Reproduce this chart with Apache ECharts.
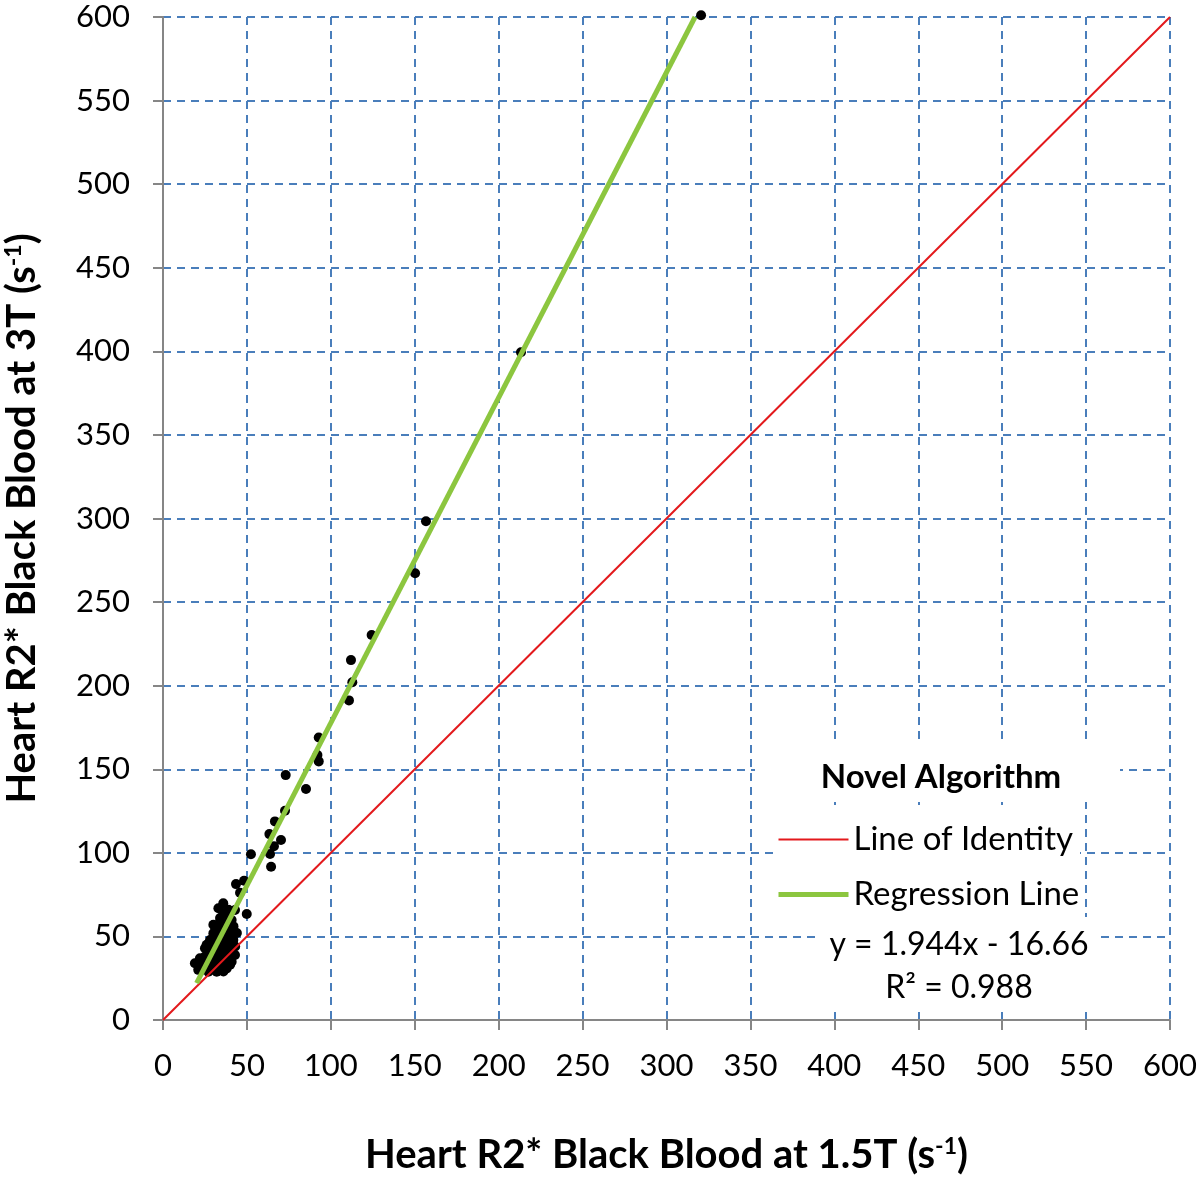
<!DOCTYPE html>
<html>
<head>
<meta charset="utf-8">
<script src="https://cdn.jsdelivr.net/npm/echarts@6/dist/echarts.min.js"></script>
<style>
html,body{margin:0;padding:0;background:#fff;}
#chart{width:1200px;height:1180px;}
</style>
</head>
<body>
<div id="chart"></div>
<script>
// Axis ticks
const axisMin = 0;
const axisMax = 600;
const axisStep = 50;

// Measured points (x = R2* at 1.5T, y = R2* at 3T)
const scatterX = [320.6, 213.3, 156.7, 150.2, 124.3, 112, 112.8, 110.8, 92.8, 92, 92.8, 73.1, 85.2, 72.7, 66.7, 63.4, 70.3, 66.1, 52.4, 63.8, 64.4,
  43.5, 48.3, 45.9, 35.9, 33, 49.9, 42.9, 38.9, 40.9, 34, 32, 37, 30, 35, 40, 28, 32, 38, 41.9, 29, 35, 40, 42.9, 22, 27, 36, 40.9, 19, 24, 30, 35, 27, 32, 38, 25, 40,
  26, 28, 30, 31, 33, 33, 34, 36, 36, 37, 38, 39, 31, 29, 26, 23, 25, 33, 37, 34, 36, 39, 31, 30, 42, 44, 43, 39, 41, 21, 28, 33, 36, 30];
const scatterY = [601, 399.5, 298.4, 267.3, 230.3, 215.3, 202, 191.2, 169, 158.5, 154.7, 146.5, 138.2, 125.2, 118.8, 111.2, 107.7, 104, 99.1, 99.3, 91.7,
  81.3, 83.3, 76.1, 69.8, 66.8, 63.4, 65.8, 62.8, 59.8, 58.8, 55.8, 55.8, 51.8, 50.8, 51.8, 47.8, 46.8, 47.8, 47.8, 42.9, 42.9, 43.8, 38.9, 36.9, 38.9, 37.9, 34.9, 33.9, 32.9, 32.9, 31.9, 28.9, 28.9, 30.9, 42.9, 33,
  45, 40, 44, 38, 40, 48, 52, 46, 53, 40, 58, 45, 49, 36, 35, 30, 38, 35, 34, 61, 64, 66, 53, 57, 56, 52, 44, 38, 41, 30, 33, 31, 29, 30];

// Line of identity endpoints
const identityX = [0, 600];
const identityY = [0, 600];

// Regression line endpoints (y = 1.944x - 16.66)
const regressionX = [20, 317];
const regressionY = [22, 600];

const legendTitle = 'Novel Algorithm';
const seriesNames = ['Line of Identity', 'Regression Line'];
const equationText = 'y = 1.944x - 16.66';
const r2Text = 'R\u00B2 = 0.988';

const FONT = 'Lato, "Open Sans", sans-serif';
const gridColor = '#4A7EBB';
const axisColor = '#868686';
const identityColor = '#E3191C';
const regressionColor = '#8CC63F';

const scatterData = scatterX.map((x, i) => [x, scatterY[i]]);
const identityData = identityX.map((x, i) => [x, identityY[i]]);
const regressionData = regressionX.map((x, i) => [x, regressionY[i]]);

const chart = echarts.init(document.getElementById('chart'));

const axisCommon = {
  type: 'value',
  min: axisMin,
  max: axisMax,
  interval: axisStep,
  axisLine: { show: true, onZero: false, lineStyle: { color: axisColor, width: 2 } },
  axisTick: { show: true, inside: false, length: 10, lineStyle: { color: axisColor, width: 2 } },
  splitLine: { show: true, lineStyle: { color: gridColor, width: 2, type: [8, 6] } },
  nameLocation: 'middle',
  nameTextStyle: {
    fontFamily: FONT, fontWeight: 'bold', fontSize: 40, color: '#000',
    rich: {
      sup: { fontFamily: FONT, fontWeight: 'bold', fontSize: 23, verticalAlign: 'top', color: '#000', padding: [0, 0, 14, 0] }
    }
  }
};

chart.setOption({
  animation: false,
  backgroundColor: '#fff',
  grid: { left: 163, right: 30, top: 17, bottom: 160, containLabel: false, outerBoundsMode: 'none' },
  xAxis: Object.assign({}, axisCommon, {
    name: 'Heart R2* Black Blood at 1.5T (s{sup|-1})',
    nameGap: 115,
    axisLabel: { fontFamily: FONT, fontSize: 31, color: '#000', margin: 30 }
  }),
  yAxis: Object.assign({}, axisCommon, {
    name: 'Heart R2* Black Blood at 3T (s{sup|-1})',
    nameGap: 121,
    axisLabel: { fontFamily: FONT, fontSize: 31, color: '#000', margin: 33 }
  }),
  title: {
    text: legendTitle,
    left: 936,
    top: 756,
    textAlign: 'center',
    textStyle: { fontFamily: FONT, fontWeight: 'bold', fontSize: 33, color: '#000' }
  },
  legend: {
    orient: 'vertical',
    left: 776,
    top: 821,
    padding: 0,
    itemWidth: 70,
    itemHeight: 14,
    itemGap: 18,
    data: [
      { name: seriesNames[0], itemStyle: { opacity: 0 }, lineStyle: { width: 2, color: identityColor } },
      { name: seriesNames[1], itemStyle: { opacity: 0 }, lineStyle: { width: 5, color: regressionColor } }
    ],
    textStyle: { fontFamily: FONT, fontSize: 33, color: '#000', lineHeight: 37 },
    selectedMode: false
  },
  graphic: [
    { type: 'rect', z: 1, silent: true, shape: { x: 755, y: 740, width: 365, height: 62 }, style: { fill: '#fff' } },
    { type: 'rect', z: 1, silent: true, shape: { x: 775, y: 805, width: 305, height: 112 }, style: { fill: '#fff' } },
    { type: 'rect', z: 1, silent: true, shape: { x: 820, y: 917, width: 275, height: 95 }, style: { fill: '#fff' } },
    { type: 'text', z: 5, silent: true, style: { x: 959, y: 945, text: equationText, fontFamily: FONT, fontSize: 32, fill: '#000', align: 'center', verticalAlign: 'middle' } },
    { type: 'text', z: 5, silent: true, style: { x: 959, y: 988, text: r2Text, fontFamily: FONT, fontSize: 32, fill: '#000', align: 'center', verticalAlign: 'middle' } }
  ],
  series: [
    {
      type: 'scatter',
      name: 'points',
      data: scatterData,
      symbol: 'circle',
      symbolSize: 10,
      clip: false,
      itemStyle: { color: '#000', opacity: 1 },
      z: 3
    },
    {
      type: 'line',
      name: seriesNames[0],
      data: identityData,
      symbol: 'none',
      showSymbol: false,
      lineStyle: { color: identityColor, width: 2 },
      itemStyle: { color: identityColor },
      z: 4
    },
    {
      type: 'line',
      name: seriesNames[1],
      data: regressionData,
      symbol: 'none',
      showSymbol: false,
      lineStyle: { color: regressionColor, width: 5 },
      itemStyle: { color: regressionColor },
      z: 5
    }
  ]
});
</script>
</body>
</html>
